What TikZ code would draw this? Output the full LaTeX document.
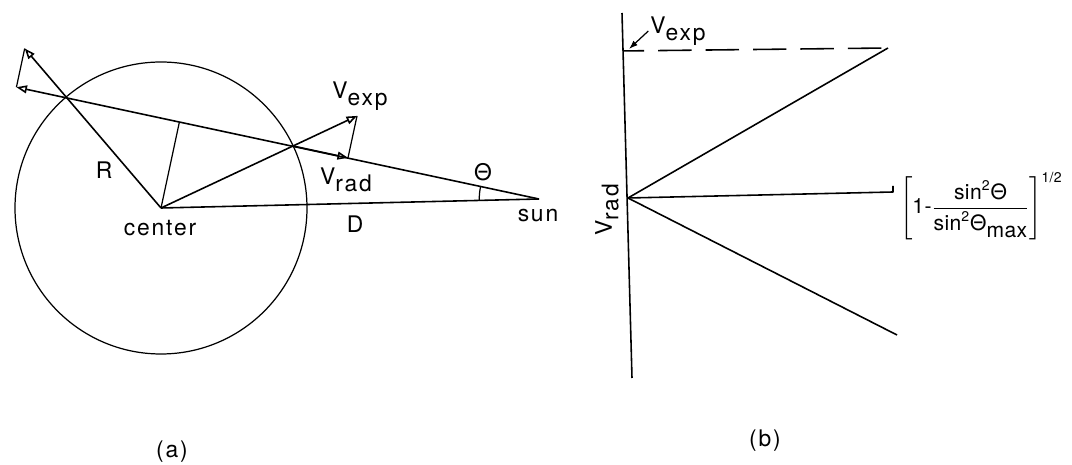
\documentclass[tikz,border=0pt]{standalone}
\usepackage{amsmath}
\usepackage{fontspec}
\setmainfont{TeX Gyre Heros}[LetterSpace=8]
\usetikzlibrary{arrows.meta, calc}
\newcommand{\lsub}[2]{#1\raisebox{-0.55ex}{#2}}
\newcommand{\lsup}[1]{^{\mbox{\footnotesize #1}}}
\tikzset{
  figline/.style={line width=0.9pt},
  thinline/.style={line width=0.7pt},
  openhead/.style={-{Triangle[open,length=6pt,width=4.5pt]}},
  lbl/.style={font=\fontsize{13}{15}\selectfont, inner sep=1pt},
}

\begin{document}
\begin{tikzpicture}[x=0.02cm, y=-0.02cm, >=Latex, line join=round]
        \useasboundingbox (0,0) rectangle (1072,465);
        % (a) star, sun and line of sight
        \coordinate (c) at (161,208);
        \coordinate (sun) at (539,199);
        \coordinate (p1) at (293,146);
        \coordinate (p2) at (67,98);
        \coordinate (tipR) at ($(c)!1.45!(p2)$);
        \coordinate (tipL) at ($(p2)!(tipR)!(sun)$);
        \coordinate (foot) at ($(p2)!(c)!(sun)$);
        \coordinate (vexp) at ($(c)!1.485!(p1)$);
        \coordinate (vrad) at ($(p1)!(vexp)!(sun)$);
        \draw[thinline] (c) circle[radius=146];
        \draw[figline, openhead] (sun) -- (tipL);
        \draw[figline, openhead] (c) -- (tipR);
        \draw[thinline] (tipR) -- (tipL);
        \draw[thinline] (c) -- (foot);
        \draw[figline, openhead] (c) -- (vexp);
        \draw[figline, openhead] (p1) -- (vrad);
        \draw[thinline] (vexp) -- (vrad);
        \draw[figline] (c) -- (sun);
        \draw[thinline] ($(sun)!0.158!(c)$) arc[start angle=178.6, end angle=192.2, radius=59];
        \node[lbl] (rlab) at (104,170) {R};
        \node[lbl] (clab) at (160,228) {center};
        \node[lbl] (dlab) at (355,224) {D};
        \node[lbl] (sunlab) at (538,216) {sun};
        \node[lbl] (thlab) at (483,172) {Θ};
        \node[lbl] (vexplab) at (360,96) {\lsub{V}{exp}};
        \node[lbl] (vradlab) at (346,180) {\lsub{V}{rad}};
        \node[lbl] (alab) at (172,452) {(a)};
        % (b) V_rad against line of sight
        \coordinate (top) at (622,13);
        \coordinate (bot) at (632,378);
        \coordinate (o) at (628,198);
        \coordinate (hi) at (888,48);
        \coordinate (lo) at (897,335);
        \coordinate (mid) at (893,192);
        \coordinate (midtick) at (893,186);
        \coordinate (dash0) at ($(top)!0.104!(bot)$);
        \coordinate (vexptip) at (629,49);
        \draw[figline] (top) -- (bot);
        \draw[figline, dash pattern=on 19pt off 8pt, dash phase=7pt] (dash0) -- (hi);
        \draw[figline] (o) -- (hi);
        \draw[figline] (o) -- (lo);
        \draw[figline] (o) -- (mid) -- (midtick);
        \node[lbl] (vexpb) at (678,31) {\lsub{V}{exp}};
        \draw[thinline, -{Latex[length=5pt,width=3.5pt]}] (vexpb.west) -- (vexptip);
        \node[lbl] (vradb) at (607,210) [rotate=90] {\lsub{V}{rad}};
        \node[lbl, font=\fontsize{12}{14}\selectfont\addfontfeatures{LetterSpace=2},
          anchor=base west] (formula) at (898,214)
          {$\left[\mbox{1-}\dfrac{\mbox{sin}\lsup{2}\mbox{Θ}}{\mbox{sin}\lsup{2}\mbox{Θ}\raisebox{-0.6ex}{max}}\right]\lsup{1/2}$};
        \node[lbl] (blab) at (765,441) {(b)};
      \end{tikzpicture}
\end{document}
